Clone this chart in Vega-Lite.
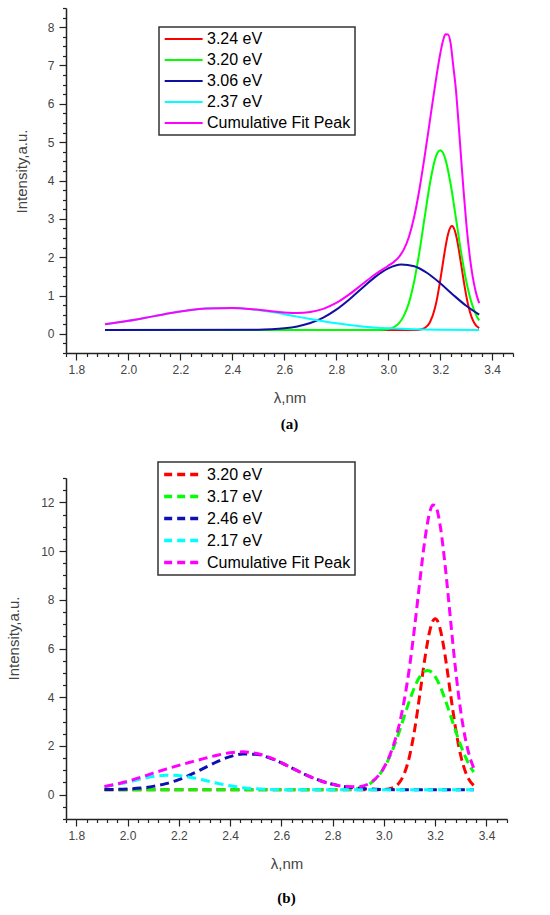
{
  "$schema": "https://vega.github.io/schema/vega-lite/v6.json",
  "padding": {"left": 6, "top": 2, "right": 5, "bottom": 2},
  "bounds": "flush",
  "spacing": 125,
  "resolve": {"scale": {"x": "independent", "y": "independent", "color": "independent"}},
  "datasets": {
    "a": [
      {"lambda": 1.91, "intensity": 0.1, "series": "3.24 eV"},
      {"lambda": 3.10, "intensity": 0.101, "series": "3.24 eV"},
      {"lambda": 3.12, "intensity": 0.109, "series": "3.24 eV"},
      {"lambda": 3.14, "intensity": 0.148, "series": "3.24 eV"},
      {"lambda": 3.16, "intensity": 0.294, "series": "3.24 eV"},
      {"lambda": 3.18, "intensity": 0.679, "series": "3.24 eV"},
      {"lambda": 3.19, "intensity": 0.998, "series": "3.24 eV"},
      {"lambda": 3.20, "intensity": 1.393, "series": "3.24 eV"},
      {"lambda": 3.21, "intensity": 1.833, "series": "3.24 eV"},
      {"lambda": 3.22, "intensity": 2.257, "series": "3.24 eV"},
      {"lambda": 3.23, "intensity": 2.596, "series": "3.24 eV"},
      {"lambda": 3.24, "intensity": 2.786, "series": "3.24 eV"},
      {"lambda": 3.245, "intensity": 2.81, "series": "3.24 eV"},
      {"lambda": 3.25, "intensity": 2.786, "series": "3.24 eV"},
      {"lambda": 3.26, "intensity": 2.596, "series": "3.24 eV"},
      {"lambda": 3.27, "intensity": 2.257, "series": "3.24 eV"},
      {"lambda": 3.28, "intensity": 1.833, "series": "3.24 eV"},
      {"lambda": 3.29, "intensity": 1.393, "series": "3.24 eV"},
      {"lambda": 3.30, "intensity": 0.998, "series": "3.24 eV"},
      {"lambda": 3.31, "intensity": 0.679, "series": "3.24 eV"},
      {"lambda": 3.32, "intensity": 0.447, "series": "3.24 eV"},
      {"lambda": 3.33, "intensity": 0.294, "series": "3.24 eV"},
      {"lambda": 3.34, "intensity": 0.2, "series": "3.24 eV"},
      {"lambda": 3.35, "intensity": 0.148, "series": "3.24 eV"},

      {"lambda": 1.91, "intensity": 0.1, "series": "3.20 eV"},
      {"lambda": 2.96, "intensity": 0.103, "series": "3.20 eV"},
      {"lambda": 3.00, "intensity": 0.126, "series": "3.20 eV"},
      {"lambda": 3.02, "intensity": 0.169, "series": "3.20 eV"},
      {"lambda": 3.04, "intensity": 0.268, "series": "3.20 eV"},
      {"lambda": 3.06, "intensity": 0.467, "series": "3.20 eV"},
      {"lambda": 3.08, "intensity": 0.821, "series": "3.20 eV"},
      {"lambda": 3.10, "intensity": 1.378, "series": "3.20 eV"},
      {"lambda": 3.12, "intensity": 2.14, "series": "3.20 eV"},
      {"lambda": 3.14, "intensity": 3.037, "series": "3.20 eV"},
      {"lambda": 3.16, "intensity": 3.909, "series": "3.20 eV"},
      {"lambda": 3.18, "intensity": 4.552, "series": "3.20 eV"},
      {"lambda": 3.19, "intensity": 4.729, "series": "3.20 eV"},
      {"lambda": 3.20, "intensity": 4.79, "series": "3.20 eV"},
      {"lambda": 3.21, "intensity": 4.729, "series": "3.20 eV"},
      {"lambda": 3.22, "intensity": 4.552, "series": "3.20 eV"},
      {"lambda": 3.24, "intensity": 3.909, "series": "3.20 eV"},
      {"lambda": 3.26, "intensity": 3.037, "series": "3.20 eV"},
      {"lambda": 3.28, "intensity": 2.14, "series": "3.20 eV"},
      {"lambda": 3.30, "intensity": 1.378, "series": "3.20 eV"},
      {"lambda": 3.32, "intensity": 0.821, "series": "3.20 eV"},
      {"lambda": 3.34, "intensity": 0.467, "series": "3.20 eV"},
      {"lambda": 3.35, "intensity": 0.351, "series": "3.20 eV"},

      {"lambda": 1.91, "intensity": 0.1, "series": "3.06 eV"},
      {"lambda": 2.50, "intensity": 0.108, "series": "3.06 eV"},
      {"lambda": 2.55, "intensity": 0.119, "series": "3.06 eV"},
      {"lambda": 2.60, "intensity": 0.144, "series": "3.06 eV"},
      {"lambda": 2.65, "intensity": 0.193, "series": "3.06 eV"},
      {"lambda": 2.70, "intensity": 0.282, "series": "3.06 eV"},
      {"lambda": 2.75, "intensity": 0.424, "series": "3.06 eV"},
      {"lambda": 2.80, "intensity": 0.631, "series": "3.06 eV"},
      {"lambda": 2.85, "intensity": 0.897, "series": "3.06 eV"},
      {"lambda": 2.90, "intensity": 1.198, "series": "3.06 eV"},
      {"lambda": 2.95, "intensity": 1.487, "series": "3.06 eV"},
      {"lambda": 3.00, "intensity": 1.707, "series": "3.06 eV"},
      {"lambda": 3.05, "intensity": 1.807, "series": "3.06 eV"},
      {"lambda": 3.10, "intensity": 1.763, "series": "3.06 eV"},
      {"lambda": 3.15, "intensity": 1.586, "series": "3.06 eV"},
      {"lambda": 3.20, "intensity": 1.318, "series": "3.06 eV"},
      {"lambda": 3.25, "intensity": 1.016, "series": "3.06 eV"},
      {"lambda": 3.30, "intensity": 0.731, "series": "3.06 eV"},
      {"lambda": 3.35, "intensity": 0.499, "series": "3.06 eV"},

      {"lambda": 1.91, "intensity": 0.248, "series": "2.37 eV"},
      {"lambda": 2.00, "intensity": 0.339, "series": "2.37 eV"},
      {"lambda": 2.10, "intensity": 0.462, "series": "2.37 eV"},
      {"lambda": 2.20, "intensity": 0.581, "series": "2.37 eV"},
      {"lambda": 2.30, "intensity": 0.662, "series": "2.37 eV"},
      {"lambda": 2.40, "intensity": 0.677, "series": "2.37 eV"},
      {"lambda": 2.50, "intensity": 0.62, "series": "2.37 eV"},
      {"lambda": 2.60, "intensity": 0.512, "series": "2.37 eV"},
      {"lambda": 2.65, "intensity": 0.449, "series": "2.37 eV"},
      {"lambda": 2.70, "intensity": 0.387, "series": "2.37 eV"},
      {"lambda": 2.75, "intensity": 0.328, "series": "2.37 eV"},
      {"lambda": 2.80, "intensity": 0.275, "series": "2.37 eV"},
      {"lambda": 2.85, "intensity": 0.231, "series": "2.37 eV"},
      {"lambda": 2.90, "intensity": 0.194, "series": "2.37 eV"},
      {"lambda": 3.00, "intensity": 0.145, "series": "2.37 eV"},
      {"lambda": 3.10, "intensity": 0.118, "series": "2.37 eV"},
      {"lambda": 3.20, "intensity": 0.107, "series": "2.37 eV"},
      {"lambda": 3.35, "intensity": 0.101, "series": "2.37 eV"},

      {"lambda": 1.91, "intensity": 0.248, "series": "Cumulative Fit Peak"},
      {"lambda": 2.00, "intensity": 0.339, "series": "Cumulative Fit Peak"},
      {"lambda": 2.10, "intensity": 0.462, "series": "Cumulative Fit Peak"},
      {"lambda": 2.20, "intensity": 0.581, "series": "Cumulative Fit Peak"},
      {"lambda": 2.30, "intensity": 0.662, "series": "Cumulative Fit Peak"},
      {"lambda": 2.40, "intensity": 0.677, "series": "Cumulative Fit Peak"},
      {"lambda": 2.50, "intensity": 0.628, "series": "Cumulative Fit Peak"},
      {"lambda": 2.60, "intensity": 0.556, "series": "Cumulative Fit Peak"},
      {"lambda": 2.65, "intensity": 0.542, "series": "Cumulative Fit Peak"},
      {"lambda": 2.70, "intensity": 0.569, "series": "Cumulative Fit Peak"},
      {"lambda": 2.75, "intensity": 0.652, "series": "Cumulative Fit Peak"},
      {"lambda": 2.80, "intensity": 0.806, "series": "Cumulative Fit Peak"},
      {"lambda": 2.85, "intensity": 1.028, "series": "Cumulative Fit Peak"},
      {"lambda": 2.90, "intensity": 1.292, "series": "Cumulative Fit Peak"},
      {"lambda": 2.95, "intensity": 1.554, "series": "Cumulative Fit Peak"},
      {"lambda": 3.00, "intensity": 1.777, "series": "Cumulative Fit Peak"},
      {"lambda": 3.02, "intensity": 1.869, "series": "Cumulative Fit Peak"},
      {"lambda": 3.04, "intensity": 1.996, "series": "Cumulative Fit Peak"},
      {"lambda": 3.06, "intensity": 2.202, "series": "Cumulative Fit Peak"},
      {"lambda": 3.08, "intensity": 2.54, "series": "Cumulative Fit Peak"},
      {"lambda": 3.10, "intensity": 3.06, "series": "Cumulative Fit Peak"},
      {"lambda": 3.12, "intensity": 3.771, "series": "Cumulative Fit Peak"},
      {"lambda": 3.14, "intensity": 4.628, "series": "Cumulative Fit Peak"},
      {"lambda": 3.16, "intensity": 5.551, "series": "Cumulative Fit Peak"},
      {"lambda": 3.18, "intensity": 6.472, "series": "Cumulative Fit Peak"},
      {"lambda": 3.20, "intensity": 7.308, "series": "Cumulative Fit Peak"},
      {"lambda": 3.21, "intensity": 7.627, "series": "Cumulative Fit Peak"},
      {"lambda": 3.22, "intensity": 7.813, "series": "Cumulative Fit Peak"},
      {"lambda": 3.23, "intensity": 7.81, "series": "Cumulative Fit Peak"},
      {"lambda": 3.24, "intensity": 7.576, "series": "Cumulative Fit Peak"},
      {"lambda": 3.25, "intensity": 6.995, "series": "Cumulative Fit Peak"},
      {"lambda": 3.26, "intensity": 6.393, "series": "Cumulative Fit Peak"},
      {"lambda": 3.27, "intensity": 5.537, "series": "Cumulative Fit Peak"},
      {"lambda": 3.28, "intensity": 4.616, "series": "Cumulative Fit Peak"},
      {"lambda": 3.29, "intensity": 3.715, "series": "Cumulative Fit Peak"},
      {"lambda": 3.30, "intensity": 2.91, "series": "Cumulative Fit Peak"},
      {"lambda": 3.31, "intensity": 2.233, "series": "Cumulative Fit Peak"},
      {"lambda": 3.32, "intensity": 1.701, "series": "Cumulative Fit Peak"},
      {"lambda": 3.33, "intensity": 1.302, "series": "Cumulative Fit Peak"},
      {"lambda": 3.34, "intensity": 1.01, "series": "Cumulative Fit Peak"},
      {"lambda": 3.35, "intensity": 0.8, "series": "Cumulative Fit Peak"}
    ],
    "b": [
      {"lambda": 1.91, "intensity": 0.2, "series": "3.20 eV"},
      {"lambda": 2.96, "intensity": 0.2, "series": "3.20 eV"},
      {"lambda": 3.00, "intensity": 0.211, "series": "3.20 eV"},
      {"lambda": 3.02, "intensity": 0.237, "series": "3.20 eV"},
      {"lambda": 3.04, "intensity": 0.31, "series": "3.20 eV"},
      {"lambda": 3.06, "intensity": 0.491, "series": "3.20 eV"},
      {"lambda": 3.08, "intensity": 0.878, "series": "3.20 eV"},
      {"lambda": 3.10, "intensity": 1.585, "series": "3.20 eV"},
      {"lambda": 3.12, "intensity": 2.684, "series": "3.20 eV"},
      {"lambda": 3.14, "intensity": 4.114, "series": "3.20 eV"},
      {"lambda": 3.16, "intensity": 5.614, "series": "3.20 eV"},
      {"lambda": 3.18, "intensity": 6.779, "series": "3.20 eV"},
      {"lambda": 3.19, "intensity": 7.11, "series": "3.20 eV"},
      {"lambda": 3.20, "intensity": 7.22, "series": "3.20 eV"},
      {"lambda": 3.21, "intensity": 7.11, "series": "3.20 eV"},
      {"lambda": 3.22, "intensity": 6.779, "series": "3.20 eV"},
      {"lambda": 3.24, "intensity": 5.614, "series": "3.20 eV"},
      {"lambda": 3.26, "intensity": 4.114, "series": "3.20 eV"},
      {"lambda": 3.28, "intensity": 2.684, "series": "3.20 eV"},
      {"lambda": 3.30, "intensity": 1.585, "series": "3.20 eV"},
      {"lambda": 3.32, "intensity": 0.878, "series": "3.20 eV"},
      {"lambda": 3.34, "intensity": 0.491, "series": "3.20 eV"},
      {"lambda": 3.35, "intensity": 0.382, "series": "3.20 eV"},

      {"lambda": 1.91, "intensity": 0.2, "series": "3.17 eV"},
      {"lambda": 2.80, "intensity": 0.202, "series": "3.17 eV"},
      {"lambda": 2.85, "intensity": 0.212, "series": "3.17 eV"},
      {"lambda": 2.90, "intensity": 0.266, "series": "3.17 eV"},
      {"lambda": 2.95, "intensity": 0.481, "series": "3.17 eV"},
      {"lambda": 3.00, "intensity": 1.089, "series": "3.17 eV"},
      {"lambda": 3.02, "intensity": 1.497, "series": "3.17 eV"},
      {"lambda": 3.04, "intensity": 2.006, "series": "3.17 eV"},
      {"lambda": 3.06, "intensity": 2.597, "series": "3.17 eV"},
      {"lambda": 3.08, "intensity": 3.237, "series": "3.17 eV"},
      {"lambda": 3.10, "intensity": 3.869, "series": "3.17 eV"},
      {"lambda": 3.12, "intensity": 4.427, "series": "3.17 eV"},
      {"lambda": 3.14, "intensity": 4.846, "series": "3.17 eV"},
      {"lambda": 3.16, "intensity": 5.071, "series": "3.17 eV"},
      {"lambda": 3.17, "intensity": 5.1, "series": "3.17 eV"},
      {"lambda": 3.18, "intensity": 5.071, "series": "3.17 eV"},
      {"lambda": 3.20, "intensity": 4.846, "series": "3.17 eV"},
      {"lambda": 3.22, "intensity": 4.427, "series": "3.17 eV"},
      {"lambda": 3.24, "intensity": 3.869, "series": "3.17 eV"},
      {"lambda": 3.26, "intensity": 3.237, "series": "3.17 eV"},
      {"lambda": 3.28, "intensity": 2.597, "series": "3.17 eV"},
      {"lambda": 3.30, "intensity": 2.006, "series": "3.17 eV"},
      {"lambda": 3.32, "intensity": 1.497, "series": "3.17 eV"},
      {"lambda": 3.34, "intensity": 1.089, "series": "3.17 eV"},
      {"lambda": 3.35, "intensity": 0.923, "series": "3.17 eV"},

      {"lambda": 1.91, "intensity": 0.207, "series": "2.46 eV"},
      {"lambda": 2.00, "intensity": 0.232, "series": "2.46 eV"},
      {"lambda": 2.05, "intensity": 0.27, "series": "2.46 eV"},
      {"lambda": 2.10, "intensity": 0.339, "series": "2.46 eV"},
      {"lambda": 2.15, "intensity": 0.452, "series": "2.46 eV"},
      {"lambda": 2.20, "intensity": 0.619, "series": "2.46 eV"},
      {"lambda": 2.25, "intensity": 0.841, "series": "2.46 eV"},
      {"lambda": 2.30, "intensity": 1.098, "series": "2.46 eV"},
      {"lambda": 2.35, "intensity": 1.354, "series": "2.46 eV"},
      {"lambda": 2.40, "intensity": 1.56, "series": "2.46 eV"},
      {"lambda": 2.45, "intensity": 1.67, "series": "2.46 eV"},
      {"lambda": 2.50, "intensity": 1.657, "series": "2.46 eV"},
      {"lambda": 2.55, "intensity": 1.525, "series": "2.46 eV"},
      {"lambda": 2.60, "intensity": 1.305, "series": "2.46 eV"},
      {"lambda": 2.65, "intensity": 1.045, "series": "2.46 eV"},
      {"lambda": 2.70, "intensity": 0.793, "series": "2.46 eV"},
      {"lambda": 2.75, "intensity": 0.581, "series": "2.46 eV"},
      {"lambda": 2.80, "intensity": 0.425, "series": "2.46 eV"},
      {"lambda": 2.85, "intensity": 0.322, "series": "2.46 eV"},
      {"lambda": 2.90, "intensity": 0.26, "series": "2.46 eV"},
      {"lambda": 2.95, "intensity": 0.228, "series": "2.46 eV"},
      {"lambda": 3.00, "intensity": 0.212, "series": "2.46 eV"},
      {"lambda": 3.10, "intensity": 0.2, "series": "2.46 eV"},
      {"lambda": 3.35, "intensity": 0.2, "series": "2.46 eV"},

      {"lambda": 1.91, "intensity": 0.328, "series": "2.17 eV"},
      {"lambda": 2.00, "intensity": 0.514, "series": "2.17 eV"},
      {"lambda": 2.05, "intensity": 0.638, "series": "2.17 eV"},
      {"lambda": 2.10, "intensity": 0.743, "series": "2.17 eV"},
      {"lambda": 2.15, "intensity": 0.797, "series": "2.17 eV"},
      {"lambda": 2.20, "intensity": 0.783, "series": "2.17 eV"},
      {"lambda": 2.25, "intensity": 0.705, "series": "2.17 eV"},
      {"lambda": 2.30, "intensity": 0.589, "series": "2.17 eV"},
      {"lambda": 2.35, "intensity": 0.466, "series": "2.17 eV"},
      {"lambda": 2.40, "intensity": 0.361, "series": "2.17 eV"},
      {"lambda": 2.45, "intensity": 0.287, "series": "2.17 eV"},
      {"lambda": 2.50, "intensity": 0.242, "series": "2.17 eV"},
      {"lambda": 2.55, "intensity": 0.218, "series": "2.17 eV"},
      {"lambda": 2.60, "intensity": 0.207, "series": "2.17 eV"},
      {"lambda": 2.70, "intensity": 0.201, "series": "2.17 eV"},
      {"lambda": 3.35, "intensity": 0.2, "series": "2.17 eV"},

      {"lambda": 1.91, "intensity": 0.335, "series": "Cumulative Fit Peak"},
      {"lambda": 2.00, "intensity": 0.546, "series": "Cumulative Fit Peak"},
      {"lambda": 2.05, "intensity": 0.708, "series": "Cumulative Fit Peak"},
      {"lambda": 2.10, "intensity": 0.882, "series": "Cumulative Fit Peak"},
      {"lambda": 2.15, "intensity": 1.049, "series": "Cumulative Fit Peak"},
      {"lambda": 2.20, "intensity": 1.202, "series": "Cumulative Fit Peak"},
      {"lambda": 2.25, "intensity": 1.346, "series": "Cumulative Fit Peak"},
      {"lambda": 2.30, "intensity": 1.487, "series": "Cumulative Fit Peak"},
      {"lambda": 2.35, "intensity": 1.62, "series": "Cumulative Fit Peak"},
      {"lambda": 2.40, "intensity": 1.721, "series": "Cumulative Fit Peak"},
      {"lambda": 2.45, "intensity": 1.757, "series": "Cumulative Fit Peak"},
      {"lambda": 2.50, "intensity": 1.699, "series": "Cumulative Fit Peak"},
      {"lambda": 2.55, "intensity": 1.543, "series": "Cumulative Fit Peak"},
      {"lambda": 2.60, "intensity": 1.312, "series": "Cumulative Fit Peak"},
      {"lambda": 2.65, "intensity": 1.047, "series": "Cumulative Fit Peak"},
      {"lambda": 2.70, "intensity": 0.794, "series": "Cumulative Fit Peak"},
      {"lambda": 2.75, "intensity": 0.581, "series": "Cumulative Fit Peak"},
      {"lambda": 2.80, "intensity": 0.427, "series": "Cumulative Fit Peak"},
      {"lambda": 2.85, "intensity": 0.334, "series": "Cumulative Fit Peak"},
      {"lambda": 2.90, "intensity": 0.326, "series": "Cumulative Fit Peak"},
      {"lambda": 2.95, "intensity": 0.509, "series": "Cumulative Fit Peak"},
      {"lambda": 3.00, "intensity": 1.111, "series": "Cumulative Fit Peak"},
      {"lambda": 3.02, "intensity": 1.542, "series": "Cumulative Fit Peak"},
      {"lambda": 3.04, "intensity": 2.121, "series": "Cumulative Fit Peak"},
      {"lambda": 3.06, "intensity": 2.891, "series": "Cumulative Fit Peak"},
      {"lambda": 3.08, "intensity": 3.917, "series": "Cumulative Fit Peak"},
      {"lambda": 3.10, "intensity": 5.256, "series": "Cumulative Fit Peak"},
      {"lambda": 3.12, "intensity": 6.911, "series": "Cumulative Fit Peak"},
      {"lambda": 3.14, "intensity": 8.76, "series": "Cumulative Fit Peak"},
      {"lambda": 3.16, "intensity": 10.485, "series": "Cumulative Fit Peak"},
      {"lambda": 3.18, "intensity": 11.65, "series": "Cumulative Fit Peak"},
      {"lambda": 3.19, "intensity": 11.892, "series": "Cumulative Fit Peak"},
      {"lambda": 3.20, "intensity": 11.866, "series": "Cumulative Fit Peak"},
      {"lambda": 3.22, "intensity": 11.006, "series": "Cumulative Fit Peak"},
      {"lambda": 3.24, "intensity": 9.283, "series": "Cumulative Fit Peak"},
      {"lambda": 3.26, "intensity": 7.151, "series": "Cumulative Fit Peak"},
      {"lambda": 3.28, "intensity": 5.081, "series": "Cumulative Fit Peak"},
      {"lambda": 3.30, "intensity": 3.391, "series": "Cumulative Fit Peak"},
      {"lambda": 3.32, "intensity": 2.175, "series": "Cumulative Fit Peak"},
      {"lambda": 3.34, "intensity": 1.38, "series": "Cumulative Fit Peak"},
      {"lambda": 3.35, "intensity": 1.105, "series": "Cumulative Fit Peak"}
    ]
  },
  "vconcat": [
    {
      "width": 447,
      "height": 345,
      "data": {"name": "a"},
      "title": {"text": "(a)", "orient": "bottom", "offset": 12},
      "encoding": {
        "x": {
          "field": "lambda", "type": "quantitative",
          "scale": {"domain": [1.76, 3.48], "nice": false, "zero": false},
          "axis": {
            "title": "λ,nm", "format": ".1f",
            "values": [1.76,1.80,1.84,1.88,1.92,1.96,2.00,2.04,2.08,2.12,2.16,2.20,2.24,2.28,2.32,2.36,2.40,2.44,2.48,2.52,2.56,2.60,2.64,2.68,2.72,2.76,2.80,2.84,2.88,2.92,2.96,3.00,3.04,3.08,3.12,3.16,3.20,3.24,3.28,3.32,3.36,3.40,3.44,3.48],
            "labelExpr": "abs(datum.value * 5 - round(datum.value * 5)) < 0.001 ? datum.label : ''",
            "tickSize": {"condition": {"test": "abs(datum.value * 5 - round(datum.value * 5)) < 0.001", "value": 7}, "value": 3.5}
          }
        },
        "y": {
          "field": "intensity", "type": "quantitative",
          "scale": {"domain": [-0.5, 8.5], "nice": false, "zero": false},
          "axis": {
            "title": "Intensity,a.u.", "format": ".0f", "titleX": -37, "titleY": 163,
            "values": [-0.5,-0.25,0,0.25,0.5,0.75,1,1.25,1.5,1.75,2,2.25,2.5,2.75,3,3.25,3.5,3.75,4,4.25,4.5,4.75,5,5.25,5.5,5.75,6,6.25,6.5,6.75,7,7.25,7.5,7.75,8,8.25,8.5],
            "labelExpr": "abs(datum.value - round(datum.value)) < 0.001 ? datum.label : ''",
            "tickSize": {"condition": {"test": "abs(datum.value - round(datum.value)) < 0.001", "value": 7}, "value": 3.5}
          }
        },
        "color": {
          "field": "series", "type": "nominal",
          "scale": {
            "domain": ["3.24 eV", "3.20 eV", "3.06 eV", "2.37 eV", "Cumulative Fit Peak"],
            "range": ["#ff0000", "#00ff00", "#1010a0", "#00ffff", "#ff00ff"]
          },
          "legend": {
            "title": null, "orient": "none", "legendX": 93, "legendY": 19,
            "symbolType": "M-1,0H5", "symbolSize": 160, "symbolStrokeWidth": 2,
            "labelOffset": 28
          }
        }
      },
      "layer": [
        {"transform": [{"filter": "datum.series === '3.24 eV'"}], "mark": {"type": "line", "interpolate": "monotone", "strokeWidth": 2}},
        {"transform": [{"filter": "datum.series === '3.20 eV'"}], "mark": {"type": "line", "interpolate": "monotone", "strokeWidth": 2}},
        {"transform": [{"filter": "datum.series === '3.06 eV'"}], "mark": {"type": "line", "interpolate": "monotone", "strokeWidth": 2}},
        {"transform": [{"filter": "datum.series === '2.37 eV'"}], "mark": {"type": "line", "interpolate": "monotone", "strokeWidth": 2}},
        {"transform": [{"filter": "datum.series === 'Cumulative Fit Peak'"}], "mark": {"type": "line", "interpolate": "monotone", "strokeWidth": 2}}
      ]
    },
    {
      "width": 441,
      "height": 341,
      "data": {"name": "b"},
      "title": {"text": "(b)", "orient": "bottom", "offset": 20},
      "encoding": {
        "x": {
          "field": "lambda", "type": "quantitative",
          "scale": {"domain": [1.76, 3.48], "nice": false, "zero": false},
          "axis": {
            "title": "λ,nm", "format": ".1f",
            "values": [1.76,1.80,1.84,1.88,1.92,1.96,2.00,2.04,2.08,2.12,2.16,2.20,2.24,2.28,2.32,2.36,2.40,2.44,2.48,2.52,2.56,2.60,2.64,2.68,2.72,2.76,2.80,2.84,2.88,2.92,2.96,3.00,3.04,3.08,3.12,3.16,3.20,3.24,3.28,3.32,3.36,3.40,3.44,3.48],
            "labelExpr": "abs(datum.value * 5 - round(datum.value * 5)) < 0.001 ? datum.label : ''",
            "tickSize": {"condition": {"test": "abs(datum.value * 5 - round(datum.value * 5)) < 0.001", "value": 7}, "value": 3.5}
          }
        },
        "y": {
          "field": "intensity", "type": "quantitative",
          "scale": {"domain": [-1, 13], "nice": false, "zero": false},
          "axis": {
            "title": "Intensity,a.u.", "format": ".0f", "titleX": -45, "titleY": 160,
            "values": [-1,-0.5,0,0.5,1,1.5,2,2.5,3,3.5,4,4.5,5,5.5,6,6.5,7,7.5,8,8.5,9,9.5,10,10.5,11,11.5,12,12.5,13],
            "labelExpr": "abs(datum.value / 2 - round(datum.value / 2)) < 0.001 ? datum.label : ''",
            "tickSize": {"condition": {"test": "abs(datum.value / 2 - round(datum.value / 2)) < 0.001", "value": 7}, "value": 3.5}
          }
        },
        "color": {
          "field": "series", "type": "nominal",
          "scale": {
            "domain": ["3.20 eV", "3.17 eV", "2.46 eV", "2.17 eV", "Cumulative Fit Peak"],
            "range": ["#ff0000", "#00ff00", "#1010b0", "#00ffff", "#ff00ff"]
          },
          "legend": {
            "title": null, "orient": "none", "legendX": 92, "legendY": -16,
            "symbolType": "M-1,0H5", "symbolSize": 160, "symbolStrokeWidth": 3.5,
            "symbolDash": [8, 5], "labelOffset": 28
          }
        }
      },
      "layer": [
        {"transform": [{"filter": "datum.series === '3.20 eV'"}], "mark": {"type": "line", "interpolate": "monotone", "strokeWidth": 3, "strokeDash": [9, 5]}},
        {"transform": [{"filter": "datum.series === '3.17 eV'"}], "mark": {"type": "line", "interpolate": "monotone", "strokeWidth": 3, "strokeDash": [9, 5]}},
        {"transform": [{"filter": "datum.series === '2.46 eV'"}], "mark": {"type": "line", "interpolate": "monotone", "strokeWidth": 3, "strokeDash": [9, 5]}},
        {"transform": [{"filter": "datum.series === '2.17 eV'"}], "mark": {"type": "line", "interpolate": "monotone", "strokeWidth": 3, "strokeDash": [9, 5]}},
        {"transform": [{"filter": "datum.series === 'Cumulative Fit Peak'"}], "mark": {"type": "line", "interpolate": "monotone", "strokeWidth": 3, "strokeDash": [9, 5]}}
      ]
    }
  ],
  "config": {
    "font": "Liberation Sans",
    "view": {"stroke": null},
    "axis": {
      "grid": false, "domainColor": "#222", "domainWidth": 1.5,
      "tickColor": "#222", "tickWidth": 1.2,
      "labelFontSize": 12, "labelColor": "#444", "labelOverlap": false, "labelFlush": false,
      "titleFontSize": 15, "titleFontWeight": "normal", "titleColor": "#444"
    },
    "axisX": {"labelPadding": 4, "titlePadding": 15},
    "axisY": {"labelPadding": 5},
    "legend": {
      "labelFontSize": 16, "labelColor": "#000", "labelLimit": 300,
      "rowPadding": 5, "padding": 4, "strokeColor": "#333", "strokeWidth": 1.5,
      "fillColor": "#ffffff"
    },
    "title": {"font": "Liberation Serif", "fontSize": 15, "fontWeight": "bold", "color": "#000"}
  }
}
